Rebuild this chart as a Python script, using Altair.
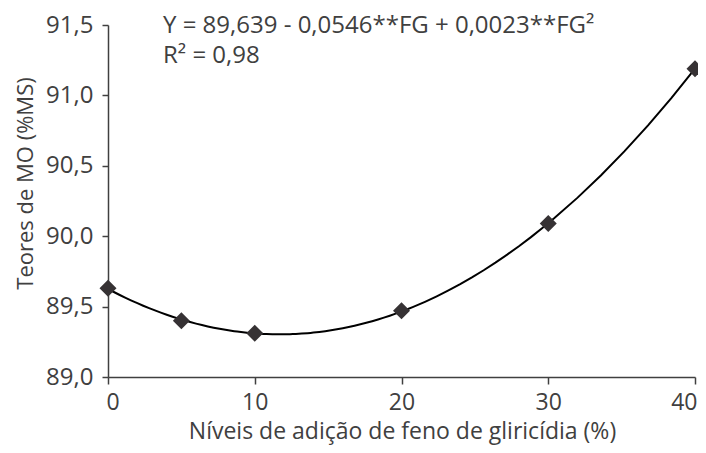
import altair as alt
import pandas as pd

# Data
niveis = [0, 5, 10, 20, 30, 40]
teores = [89.63, 89.40, 89.31, 89.47, 90.09, 91.19]
x_ticks = [0, 10, 20, 30, 40]
y_ticks = [89.0, 89.5, 90.0, 90.5, 91.0, 91.5]
eq_line1 = "Y = 89,639 - 0,0546**FG + 0,0023**FG²"
eq_line2 = "R² = 0,98"

df = pd.DataFrame({"x": niveis, "y": teores})

FONT = "Open Sans"
TXT = "#404040"
FS = 24

x_enc = alt.X(
    "x:Q",
    scale=alt.Scale(domain=[0, 40], nice=False, zero=False),
    axis=alt.Axis(
        values=x_ticks,
        title="Níveis de adição de feno de gliricídia (%)",
        grid=False,
        domainColor=TXT, domainWidth=1.5,
        tickColor=TXT, tickWidth=1.5, tickSize=7,
        labelFont=FONT, labelFontSize=23, labelColor=TXT, labelPadding=7,
        labelFlush=True, labelFlushOffset=2,
        titleFont=FONT, titleFontSize=23, titleColor=TXT, titleFontWeight="normal",
        titleBaseline="alphabetic", titleY=61, titleX=294,
    ),
)
y_enc = alt.Y(
    "y:Q",
    scale=alt.Scale(domain=[89.0, 91.5], nice=False, zero=False),
    axis=alt.Axis(
        values=y_ticks,
        labelExpr="replace(format(datum.value, '.1f'), '.', ',')",
        title="Teores de MO (%MS)",
        grid=False,
        domainColor=TXT, domainWidth=1.5,
        tickColor=TXT, tickWidth=1.5, tickSize=6,
        labelFont=FONT, labelFontSize=FS, labelColor=TXT, labelPadding=9,
        labelFlush=False,
        titleFont=FONT, titleFontSize=22, titleColor=TXT, titleFontWeight="normal",
        titleAngle=270, titleAlign="center", titleBaseline="alphabetic",
        titleX=-76, titleY=158,
    ),
)

base = alt.Chart(df)

curve = base.transform_regression(
    "x", "y", method="poly", order=2, extent=[0, 40]
).mark_line(color="#000000", strokeWidth=2).encode(x=x_enc, y=y_enc)

points = base.mark_point(
    shape="diamond", filled=True, size=290, color="#363234", opacity=1
).encode(x="x:Q", y="y:Q")

ann = pd.DataFrame({"t": [eq_line1]})
ann2 = pd.DataFrame({"t": [eq_line2]})
txt1 = alt.Chart(ann).mark_text(
    align="left", baseline="alphabetic", font=FONT, fontSize=FS, color=TXT
).encode(text="t:N", x=alt.value(55), y=alt.value(8))
txt2 = alt.Chart(ann2).mark_text(
    align="left", baseline="alphabetic", font=FONT, fontSize=FS, color=TXT
).encode(text="t:N", x=alt.value(55), y=alt.value(38))

chart = alt.layer(curve, points, txt1, txt2).properties(
    width=587,
    height=352,
    autosize=alt.AutoSizeParams(type="none"),
    padding={"left": 100, "top": 17, "right": 3, "bottom": 68},
).configure_view(stroke=None)

chart.save("out.html", embed_options={"renderer": "svg", "actions": False})
